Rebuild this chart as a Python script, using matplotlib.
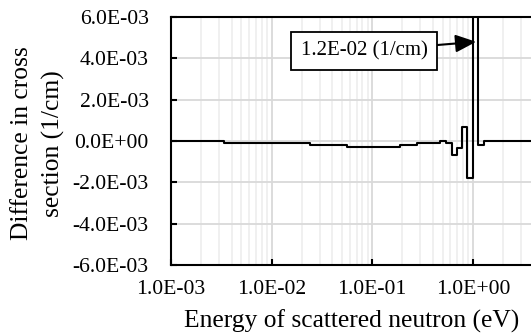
import numpy as np
import matplotlib
matplotlib.use("Agg")
import matplotlib.pyplot as plt
from matplotlib.ticker import FixedLocator, LogLocator, NullFormatter

# step edges (eV) and difference values (1/cm)
energy_edges = [1e-3, 0.0034, 0.0242, 0.056, 0.19, 0.276, 0.473, 0.543,
                0.618, 0.703, 0.778, 0.871, 1.0, 1.137, 1.295, 3.79]
diff_values = [0.0, -0.08e-3, -0.19e-3, -0.27e-3, -0.18e-3, -0.10e-3, 0.0,
               -0.08e-3, -0.70e-3, -0.35e-3, 0.70e-3, -1.80e-3, 12e-3,
               -0.19e-3, 0.0]
x_ticks = [1e-3, 1e-2, 1e-1, 1e0]
x_ticklabels = ["1.0E-03", "1.0E-02", "1.0E-01", "1.0E+00"]
y_ticks = [-6e-3, -4e-3, -2e-3, 0, 2e-3, 4e-3, 6e-3]
y_ticklabels = ["-6.0E-03", "-4.0E-03", "-2.0E-03", "0.0E+00",
                "2.0E-03", "4.0E-03", "6.0E-03"]

plt.rcParams["font.family"] = ["Liberation Serif", "DejaVu Serif"]

fig = plt.figure(figsize=(5.31, 3.34), dpi=100)
ax = fig.add_axes([171 / 531, 69 / 334, 360 / 531, 248 / 334])

xs = energy_edges
ys = diff_values + [diff_values[-1]]
ax.step(xs, ys, where="post", color="black", lw=1.5, zorder=3)

ax.set_xscale("log")
ax.set_xlim(1e-3, 3.79)
ax.set_ylim(-6e-3, 6e-3)

ax.xaxis.set_major_locator(FixedLocator(x_ticks))
ax.set_xticklabels(x_ticklabels)
ax.xaxis.set_minor_locator(LogLocator(base=10, subs=np.arange(2, 10)))
ax.xaxis.set_minor_formatter(NullFormatter())
ax.set_yticks(y_ticks)
ax.set_yticklabels(y_ticklabels)

ax.grid(which="major", color="#d9d9d9", lw=1.3, zorder=0)
ax.grid(which="minor", axis="x", color="#efefef", lw=1.3, zorder=0)
ax.set_axisbelow(True)

ax.tick_params(which="major", direction="in", length=4, width=1.5,
               labelsize=15.6, color="black")
ax.tick_params(axis="y", pad=16)
ax.tick_params(axis="x", pad=11)
ax.tick_params(which="minor", length=0)

for s in ["left", "bottom", "top"]:
    ax.spines[s].set_linewidth(1.5)
ax.spines["right"].set_visible(False)

ax.annotate("1.2E-02 (1/cm)", xy=(1.08, 4.8e-3), xytext=(0.083, 4.35e-3),
            ha="center", va="center", fontsize=15,
            bbox=dict(boxstyle="square,pad=0.45", fc="white", ec="black", lw=1.3),
            arrowprops=dict(arrowstyle="-|>,head_length=0.7,head_width=0.3",
                            color="black", lw=1.5, mutation_scale=18,
                            shrinkA=0, shrinkB=0),
            zorder=5)

fig.text(38 / 531, 0.57, "Difference in cross\nsection (1/cm)", rotation=90,
         ha="center", va="center", multialignment="center", fontsize=18.4,
         linespacing=1.5)
fig.text(352 / 531, 0.018, "Energy of scattered neutron (eV)", ha="center",
         va="baseline", fontsize=18.4)

fig.savefig("out.png", dpi=100)
